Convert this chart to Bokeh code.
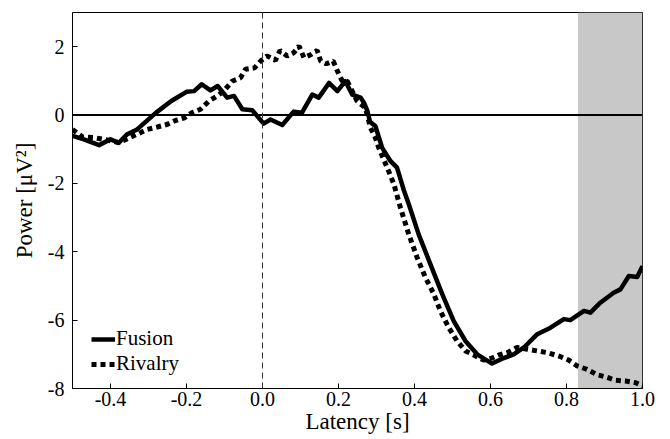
from bokeh.plotting import figure
from bokeh.models import Span, BoxAnnotation, FixedTicker, PrintfTickFormatter, Legend, LegendItem
from bokeh.embed import file_html
from bokeh.resources import INLINE

# Data
fusion_x = [-0.50, -0.47, -0.43, -0.40, -0.378, -0.356, -0.33, -0.28, -0.24, -0.20, -0.18, -0.16,
            -0.137, -0.118, -0.093, -0.075, -0.053, -0.027, 0.003, 0.021, 0.052, 0.082, 0.104,
            0.131, 0.148, 0.175, 0.197, 0.218, 0.236, 0.258, 0.267, 0.276, 0.283, 0.297, 0.315,
            0.337, 0.354, 0.372, 0.385, 0.411, 0.442, 0.473, 0.503, 0.534, 0.565, 0.604, 0.635,
            0.661, 0.688, 0.723, 0.758, 0.793, 0.81, 0.846, 0.863, 0.889, 0.924, 0.942, 0.964,
            0.986, 1.0]
fusion_y = [-0.61, -0.71, -0.88, -0.71, -0.81, -0.56, -0.42, 0.07, 0.41, 0.68, 0.70, 0.90,
            0.72, 0.85, 0.51, 0.56, 0.17, 0.14, -0.25, -0.13, -0.29, 0.10, 0.07,
            0.60, 0.51, 0.94, 0.70, 0.99, 0.60, 0.51, 0.36, 0.12, -0.20, -0.32, -0.96,
            -1.35, -1.54, -2.20, -2.61, -3.49, -4.37, -5.24, -6.02, -6.61, -7.00, -7.27, -7.11,
            -7.00, -6.80, -6.41, -6.22, -5.97, -6.00, -5.73, -5.78, -5.49, -5.20, -5.10, -4.71,
            -4.74, -4.42]

rivalry_x = [-0.50, -0.474, -0.444, -0.40, -0.378, -0.33, -0.303, -0.277, -0.25, -0.229, -0.205,
             -0.185, -0.163, -0.141, -0.119, -0.102, -0.08, -0.058, -0.045, -0.021, -0.005, 0.012,
             0.034, 0.046, 0.065, 0.082, 0.096, 0.109, 0.128, 0.144, 0.153, 0.168, 0.186, 0.197,
             0.21, 0.223, 0.236, 0.249, 0.271, 0.284, 0.297, 0.306, 0.319, 0.332, 0.346, 0.363,
             0.385, 0.407, 0.429, 0.451, 0.468, 0.49, 0.512, 0.534, 0.556, 0.582, 0.604, 0.622,
             0.644, 0.67, 0.697, 0.723, 0.749, 0.78, 0.806, 0.828, 0.854, 0.881, 0.903, 0.929,
             0.955, 0.982, 1.0]
rivalry_y = [-0.42, -0.64, -0.66, -0.75, -0.81, -0.56, -0.42, -0.35, -0.27, -0.16, -0.08,
             0.07, 0.17, 0.41, 0.56, 0.70, 0.99, 1.09, 1.34, 1.38, 1.58, 1.73,
             1.60, 1.89, 1.73, 1.82, 2.02, 1.68, 1.77, 1.89, 1.58, 1.50, 1.58, 1.29,
             0.99, 0.99, 0.70, 0.41, 0.21, -0.37, -0.66, -0.96, -1.30, -1.64, -2.03, -2.71,
             -3.49, -4.17, -4.76, -5.24, -5.73, -6.22, -6.61, -6.90, -7.02, -7.17, -7.11, -7.02,
             -6.95, -6.80, -6.85, -6.90, -6.95, -7.05, -7.17, -7.34, -7.44, -7.60, -7.66, -7.76,
             -7.78, -7.83, -7.92]

x_ticks = [-0.4, -0.2, 0.0, 0.2, 0.4, 0.6, 0.8, 1.0]
y_ticks = [-8, -6, -4, -2, 0, 2]
shade_start = 0.83
shade_end = 1.0

FONT = "Liberation Serif"

p = figure(width=670, height=439, x_range=(-0.5, 1.0), y_range=(-8, 3),
           output_backend="svg", toolbar_location=None,
           min_border_left=72, min_border_right=28, min_border_top=12, min_border_bottom=51)
p.xgrid.visible = False
p.ygrid.visible = False
p.outline_line_color = "black"
p.outline_line_width = 1
p.background_fill_color = "white"
p.border_fill_color = "white"

p.add_layout(BoxAnnotation(left=shade_start, right=shade_end, fill_color="#c8c8c8",
                           fill_alpha=1.0, line_color=None, level="underlay"))

p.add_layout(Span(location=0, dimension="width", line_color="black", line_width=2))
p.add_layout(Span(location=0, dimension="height", line_color="#333333", line_width=1,
                  line_dash="6 4"))

r_fus = p.line(fusion_x, fusion_y, line_color="black", line_width=4.5, line_join="round")
r_riv = p.line(rivalry_x, rivalry_y, line_color="black", line_width=5, line_dash="5 4")

for ax in (p.xaxis[0], p.yaxis[0]):
    ax.major_tick_in = 5
    ax.major_tick_out = 0
    ax.minor_tick_in = 0
    ax.minor_tick_out = 0
    ax.major_label_text_font = FONT
    ax.major_label_text_font_size = "20px"
    ax.major_label_text_color = "black"
    ax.axis_label_text_font = FONT
    ax.axis_label_text_font_size = "23px"
    ax.axis_label_text_font_style = "normal"
    ax.axis_label_text_color = "black"
    ax.axis_line_color = "black"
    ax.major_tick_line_color = "black"

p.xaxis[0].ticker = FixedTicker(ticks=x_ticks)
p.xaxis[0].formatter = PrintfTickFormatter(format="%.1f")
p.xaxis[0].axis_label = "Latency [s]"
p.xaxis[0].major_label_standoff = 3
p.xaxis[0].axis_label_standoff = 0

p.yaxis[0].ticker = FixedTicker(ticks=y_ticks)
p.yaxis[0].formatter = PrintfTickFormatter(format="%d")
p.yaxis[0].axis_label = "Power [\u03bcV\u00b2]"
p.yaxis[0].major_label_standoff = 8
p.yaxis[0].axis_label_standoff = 8

legend = Legend(items=[LegendItem(label="Fusion", renderers=[r_fus]),
                       LegendItem(label="Rivalry", renderers=[r_riv])],
                location=(19, 12), label_text_font=FONT, label_text_font_size="21px",
                label_text_color="black",
                glyph_width=24, glyph_height=20, label_height=23, label_standoff=1,
                spacing=0, padding=4, margin=0, border_line_color=None,
                background_fill_alpha=0)
p.add_layout(legend)

open("out.html", "w").write(file_html(p, INLINE))
